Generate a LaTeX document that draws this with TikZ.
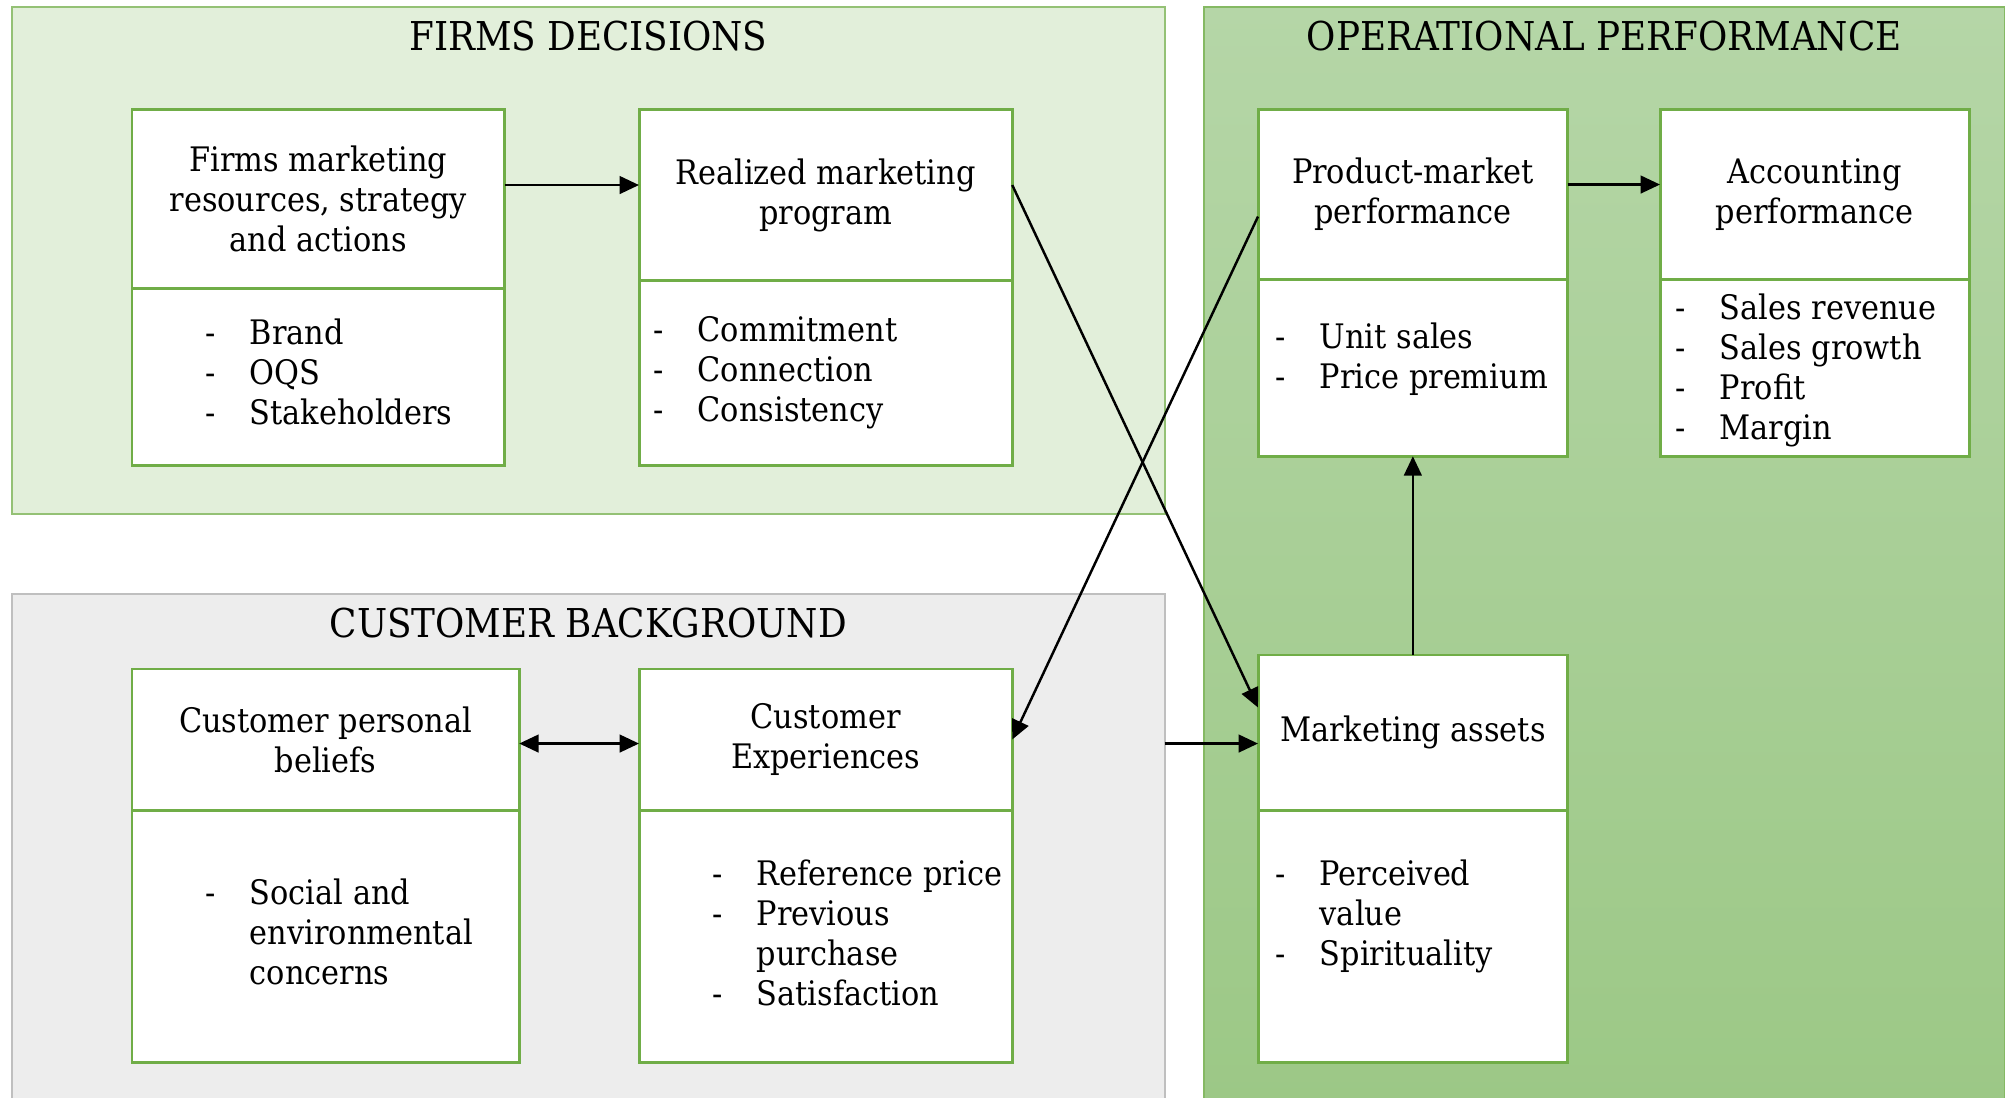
\documentclass[tikz,border=0pt]{standalone}
\usepackage{fontspec}
\setmainfont{DejaVu Serif Condensed}
\usepackage{tikz}
\usetikzlibrary{arrows.meta, positioning}

\definecolor{boxgreen}{HTML}{70AD47}
\definecolor{firmsfill}{HTML}{E2EFDA}
\definecolor{opstop}{HTML}{B5D6A7}
\definecolor{opsbottom}{HTML}{9CC886}
\definecolor{custfill}{HTML}{EDEDED}
\definecolor{custline}{HTML}{BFBFBF}

\begin{document}
\begin{tikzpicture}[x=0.01cm, y=-0.01cm, >={Triangle[length=5.5pt, width=5pt]},
    every node/.style={font=\fontsize{9.6}{11.4}\selectfont},
    panel/.style={line width=0.5pt, anchor=north west, inner sep=0pt, outer sep=0pt},
    title/.style={font=\fontsize{11.3}{13}\selectfont},
    head/.style={draw=boxgreen, line width=0.85pt, fill=white, anchor=north west, inner sep=0pt, outer sep=0pt, align=center},
    body/.style={draw=boxgreen, line width=0.85pt, fill=white, anchor=north, inner sep=0pt, outer sep=0pt},
    lst/.style={inner sep=0pt, anchor=west},
    arr/.style={->, line width=0.7pt}]
    \useasboundingbox (0,0) rectangle (2013,1098);

    % Paneles de fondo
    \node[panel, draw=boxgreen!75, fill=firmsfill, minimum width=11.52cm, minimum height=5.07cm] (firms) at (12,7) {};
    \node[panel, draw=boxgreen!85, top color=opstop, bottom color=opsbottom, minimum width=8.00cm, minimum height=10.96cm] (ops) at (1204,7) {};
    \node[panel, draw=custline, fill=custfill, minimum width=11.52cm, minimum height=5.10cm] (cust) at (12,594) {};

    \node[title] at ([yshift=-0.29cm]firms.north) {FIRMS DECISIONS};
    \node[title] at ([yshift=-0.29cm]ops.north) {OPERATIONAL PERFORMANCE};
    \node[title] at ([yshift=-0.29cm]cust.north) {CUSTOMER BACKGROUND};

    % Decisiones de la empresa
    \node[head, minimum width=3.725cm, minimum height=1.78cm] (firmsH) at (132,110) {Firms marketing\\resources, strategy\\and actions};
    \node[body, below=0pt of firmsH, minimum width=3.725cm, minimum height=1.77cm] (firmsB) {};
    \node[lst, right=0.73cm of firmsB.west] (firmsL) {\begin{tabular}{@{}p{0.44cm}@{}l@{}}
        - & Brand\\ - & OQS\\ - & Stakeholders\end{tabular}};

    \node[head, minimum width=3.73cm, minimum height=1.70cm] (realH) at (639,110) {Realized marketing\\program};
    \node[body, below=0pt of realH, minimum width=3.73cm, minimum height=1.85cm] (realB) {};
    \node[lst, right=0.14cm of realB.west, yshift=-0.01cm] (realL) {\begin{tabular}{@{}p{0.44cm}@{}l@{}}
        - & Commitment\\ - & Connection\\ - & Consistency\end{tabular}};

    % Rendimiento operativo
    \node[head, minimum width=3.095cm, minimum height=1.69cm] (prodH) at (1258,110) {Product-market\\performance};
    \node[body, below=0pt of prodH, minimum width=3.095cm, minimum height=1.77cm] (prodB) {};
    \node[lst, right=0.17cm of prodB.west, yshift=0.07cm] (prodL) {\begin{tabular}{@{}p{0.44cm}@{}l@{}}
        - & Unit sales\\ - & Price premium\end{tabular}};

    \node[head, minimum width=3.09cm, minimum height=1.69cm] (acctH) at (1660,110) {Accounting\\performance};
    \node[body, below=0pt of acctH, minimum width=3.09cm, minimum height=1.77cm] (acctB) {};
    \node[lst, right=0.15cm of acctB.west, yshift=-0.04cm] (acctL) {\begin{tabular}{@{}p{0.44cm}@{}l@{}}
        - & Sales revenue\\ - & Sales growth\\ - & Profit\\ - & Margin\end{tabular}};

    \node[head, minimum width=3.095cm, minimum height=1.55cm] (assetsH) at (1258,655) {Marketing assets};
    \node[body, below=0pt of assetsH, minimum width=3.095cm, minimum height=2.52cm] (assetsB) {};
    \node[lst, right=0.17cm of assetsB.west, yshift=0.19cm] (assetsL) {\begin{tabular}{@{}p{0.44cm}@{}l@{}}
        - & Perceived\\ & value\\ - & Spirituality\end{tabular}};

    % Contexto del cliente
    \node[head, minimum width=3.87cm, minimum height=1.41cm] (beliefsH) at (132,669) {Customer personal\\beliefs};
    \node[body, below=0pt of beliefsH, minimum width=3.87cm, minimum height=2.52cm] (beliefsB) {};
    \node[lst, right=0.73cm of beliefsB.west] (beliefsL) {\begin{tabular}{@{}p{0.44cm}@{}l@{}}
        - & Social and\\ & environmental\\ & concerns\end{tabular}};

    \node[head, minimum width=3.73cm, minimum height=1.41cm] (experH) at (639,669) {Customer\\Experiences};
    \node[body, below=0pt of experH, minimum width=3.73cm, minimum height=2.52cm] (experB) {};
    \node[lst, right=0.73cm of experB.west, yshift=-0.01cm] (experL) {\begin{tabular}{@{}p{0.44cm}@{}l@{}}
        - & Reference price\\ - & Previous\\ & purchase\\ - & Satisfaction\end{tabular}};

    % Flechas
    \draw[arr] ([yshift=0.14cm]firmsH.east) -- ([yshift=0.14cm]firmsH.east -| realH.west);
    \draw[arr] ([yshift=0.10cm]realH.east) -- ([yshift=0.25cm]assetsH.west);
    \draw[arr] ([yshift=-0.22cm]prodH.west) -- (experH.east);
    \draw[<->, line width=0.7pt] ([yshift=-0.04cm]beliefsH.east) -- ([yshift=-0.04cm]experH.west);
    \draw[arr] ([yshift=-0.04cm]cust.east |- experH.east) -- ([yshift=-0.04cm]experH.east -| assetsH.west);
    \draw[arr] (assetsH.north) -- (prodB.south);
    \draw[arr] ([yshift=0.10cm]prodH.east) -- ([yshift=0.10cm]prodH.east -| acctH.west);
\end{tikzpicture}
\end{document}
